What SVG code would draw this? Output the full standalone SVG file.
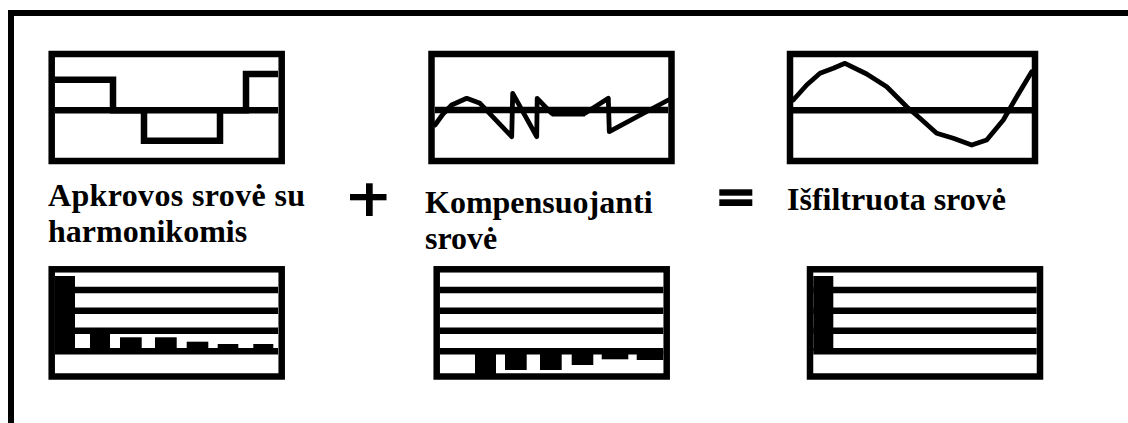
<svg xmlns="http://www.w3.org/2000/svg" width="1128" height="423" viewBox="0 0 1128 423">
<style>
.box{fill:none;stroke:#000;stroke-width:6.5;stroke-linejoin:miter}
.ln{fill:none;stroke:#000;stroke-width:6.5}
.wave{fill:none;stroke:#000;stroke-width:4.8;stroke-linejoin:round;stroke-linecap:round}
.bar{fill:#000}
.lbl{font-family:"Liberation Serif","Times New Roman",serif;font-weight:bold;font-size:32px;fill:#000}
</style>
<rect width="1128" height="423" fill="#fff"/>
<path id="frame" d="M11,423 V13 H1128" fill="none" stroke="#000" stroke-width="6"/>

<g id="load-wave">
<rect class="box" x="51.7" y="54" width="230" height="107"/>
<line class="ln" x1="55" y1="110.3" x2="278" y2="110.3"/>
<path class="ln" d="M55,79.7 H113 V110.3 H144 V140.7 H220 V110.3 H246 V74 H278"/>
</g>

<g id="comp-wave">
<rect class="box" x="431.5" y="54" width="240" height="107"/>
<line class="ln" x1="435" y1="110" x2="668" y2="110"/>
<polyline class="wave" points="435,125 443,114 451.7,105 466.7,98.3 480,103.3 511.7,136.7 512.7,93.3 536.7,136.7 537.2,98.3 551.7,113.3 585,113.3 608.3,98.3 609.3,131.7 668.3,100"/>
<rect class="bar" x="551.7" y="110" width="33.3" height="6.5"/>
</g>

<g id="filtered-wave">
<rect class="box" x="790" y="54" width="245" height="107"/>
<line class="ln" x1="793" y1="110.3" x2="1032" y2="110.3"/>
<polyline class="wave" points="793.3,100 806.7,85 820,73.3 833.3,68.3 845,63.3 866.7,74 886.7,86.7 906.7,106.7 920,118.3 936.7,133.3 953.3,138.3 971.7,145 986.7,140 1003.3,120 1016.7,96.7 1031.7,71.7"/>
</g>

<g id="op-plus">
<rect class="bar" x="350" y="194" width="36.5" height="6.3"/>
<rect class="bar" x="366" y="183.3" width="6.7" height="32.7"/>
</g>
<g id="op-equals">
<rect class="bar" x="719.3" y="189.3" width="33" height="6.4"/>
<rect class="bar" x="719.3" y="199.3" width="33" height="6.7"/>
</g>

<g id="label-load">
<text class="lbl" x="48" y="206" textLength="257" lengthAdjust="spacing">Apkrovos srovė su</text>
<text class="lbl" x="48" y="241.7">harmonikomis</text>
</g>
<g id="label-comp">
<text class="lbl" x="425" y="213.3">Kompensuojanti</text>
<text class="lbl" x="425" y="249.3">srovė</text>
</g>
<g id="label-filtered">
<text class="lbl" x="787" y="210">Išfiltruota srovė</text>
</g>

<g id="load-spectrum">
<rect class="box" x="51.7" y="269.3" width="230" height="107.2"/>
<line class="ln" x1="55" y1="290" x2="278" y2="290"/>
<line class="ln" x1="55" y1="310.7" x2="278" y2="310.7"/>
<line class="ln" x1="55" y1="330.7" x2="278" y2="330.7"/>
<line class="ln" x1="55" y1="351.3" x2="278" y2="351.3"/>
<rect class="bar" x="55" y="276" width="20" height="75"/>
<rect class="bar" x="90" y="330" width="20" height="21"/>
<rect class="bar" x="120" y="337.3" width="21.7" height="14"/>
<rect class="bar" x="155" y="337.3" width="21.7" height="14"/>
<rect class="bar" x="186.7" y="341.7" width="21.6" height="9.6"/>
<rect class="bar" x="217.7" y="344" width="20.6" height="7.3"/>
<rect class="bar" x="253.3" y="344" width="20" height="7.3"/>
</g>

<g id="comp-spectrum">
<rect class="box" x="436.7" y="269.3" width="230" height="107.2"/>
<line class="ln" x1="440" y1="290" x2="663.3" y2="290"/>
<line class="ln" x1="440" y1="310.7" x2="663.3" y2="310.7"/>
<line class="ln" x1="440" y1="330.7" x2="663.3" y2="330.7"/>
<line class="ln" x1="440" y1="351.3" x2="663.3" y2="351.3"/>
<rect class="bar" x="475" y="351" width="21" height="23"/>
<rect class="bar" x="505" y="351" width="21.7" height="19"/>
<rect class="bar" x="540" y="351" width="21.7" height="19"/>
<rect class="bar" x="571.7" y="351" width="21.6" height="14"/>
<rect class="bar" x="601.7" y="351" width="26.6" height="8.3"/>
<rect class="bar" x="636.7" y="351" width="26.6" height="9"/>
</g>

<g id="filtered-spectrum">
<rect class="box" x="810" y="269.3" width="230" height="107.2"/>
<line class="ln" x1="813.3" y1="290" x2="1036.7" y2="290"/>
<line class="ln" x1="813.3" y1="310.7" x2="1036.7" y2="310.7"/>
<line class="ln" x1="813.3" y1="330.7" x2="1036.7" y2="330.7"/>
<line class="ln" x1="813.3" y1="351.3" x2="1036.7" y2="351.3"/>
<rect class="bar" x="813.3" y="276" width="20" height="75"/>
</g>
</svg>
